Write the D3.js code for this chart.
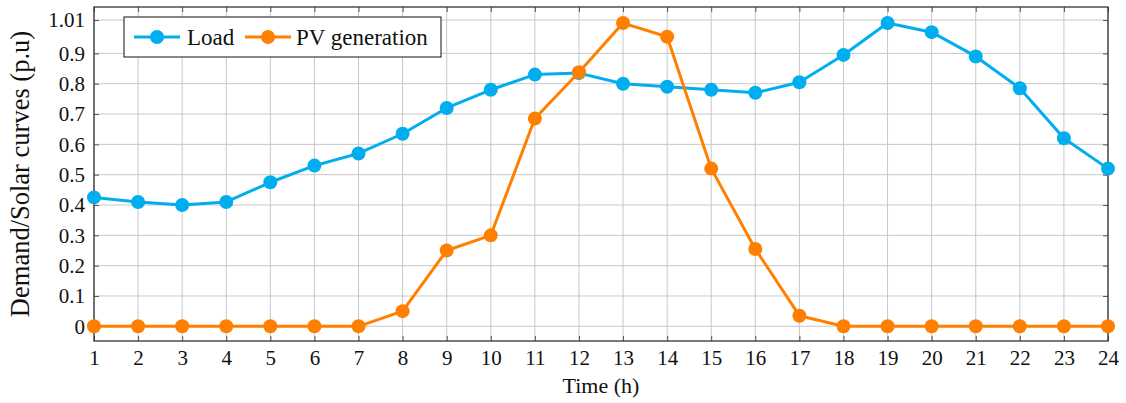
<!DOCTYPE html>
<head>
    <meta charset="utf-8">
    <script src='https://d3js.org/d3.v7.min.js'></script>
    <title>Load and PV generation</title>
    <style>
        body { margin: 0; background: #ffffff; }
        text { font-family: "Liberation Serif", "DejaVu Serif", serif; fill: #111; }
    </style>
</head>
<body>
    <svg id="chart" width="1126" height="403"></svg>
<script>

var hours = d3.range(1, 25);
var loadValues = [0.425, 0.41, 0.40, 0.41, 0.475, 0.53, 0.57, 0.635, 0.72, 0.78, 0.83, 0.835,
                  0.80, 0.79, 0.78, 0.77, 0.805, 0.895, 1.0, 0.97, 0.89, 0.785, 0.62, 0.52];
var pvValues = [0, 0, 0, 0, 0, 0, 0, 0.05, 0.25, 0.30, 0.685, 0.838,
                1.0, 0.955, 0.52, 0.255, 0.035, 0, 0, 0, 0, 0, 0, 0];
var yTicks = [0, 0.1, 0.2, 0.3, 0.4, 0.5, 0.6, 0.7, 0.8, 0.9, 1.01];
var seriesNames = ["Load", "PV generation"];
var seriesColors = ["#00aeef", "#ff8000"];

var plotLeft = 94, plotRight = 1108, plotTop = 7, plotBottom = 341;

var x = d3.scaleLinear().domain([1, 24]).range([plotLeft, plotRight]);
var y = d3.scaleLinear().domain([-0.0485, 1.053]).range([plotBottom, plotTop]);

var svg = d3.select("#chart");

// grid
svg.append("g")
  .selectAll("line")
  .data(hours)
  .enter().append("line")
  .attr("x1", function(d) { return x(d); })
  .attr("x2", function(d) { return x(d); })
  .attr("y1", plotTop)
  .attr("y2", plotBottom)
  .style("stroke", "#c8c8c8")
  .style("stroke-width", 1);

svg.append("g")
  .selectAll("line")
  .data(yTicks)
  .enter().append("line")
  .attr("x1", plotLeft)
  .attr("x2", plotRight)
  .attr("y1", function(d) { return y(d); })
  .attr("y2", function(d) { return y(d); })
  .style("stroke", "#c8c8c8")
  .style("stroke-width", 1);

// axes (ticks inside, on all four sides)
var fmt = function(d) { return d == 0 ? "0" : String(d); };

var xb = svg.append("g")
  .attr("transform", "translate(0," + plotBottom + ")")
  .call(d3.axisBottom(x).tickValues(hours).tickSize(-5).tickPadding(9).tickFormat(d3.format("d")));
var xt = svg.append("g")
  .attr("transform", "translate(0," + plotTop + ")")
  .call(d3.axisTop(x).tickValues(hours).tickSize(-5).tickFormat(""));
var yl = svg.append("g")
  .attr("transform", "translate(" + plotLeft + ",0)")
  .call(d3.axisLeft(y).tickValues(yTicks).tickSize(-5).tickPadding(9).tickFormat(fmt));
var yr = svg.append("g")
  .attr("transform", "translate(" + plotRight + ",0)")
  .call(d3.axisRight(y).tickValues(yTicks).tickSize(-5).tickFormat(""));

[xb, xt, yl, yr].forEach(function(a) {
  a.select(".domain").remove();
  a.selectAll(".tick line").style("stroke", "#555").style("stroke-width", 1);
  a.selectAll(".tick text")
    .style("font-family", "'Liberation Serif', serif")
    .style("font-size", "21px")
    .style("fill", "#111");
});

svg.append("rect")
  .attr("x", plotLeft).attr("y", plotTop)
  .attr("width", plotRight - plotLeft).attr("height", plotBottom - plotTop)
  .style("fill", "none")
  .style("stroke", "#333")
  .style("stroke-width", 1.3);

// series
var series = [loadValues, pvValues];
var line = d3.line()
  .x(function(d, i) { return x(hours[i]); })
  .y(function(d) { return y(d); });

for (var s = 0; s < series.length; s++) {
  svg.append("path")
    .datum(series[s])
    .attr("d", line)
    .style("fill", "none")
    .style("stroke", seriesColors[s])
    .style("stroke-width", 3)
    .style("stroke-linejoin", "round");
  svg.append("g")
    .selectAll("circle")
    .data(series[s])
    .enter().append("circle")
    .attr("cx", function(d, i) { return x(hours[i]); })
    .attr("cy", function(d) { return y(d); })
    .attr("r", 7)
    .style("fill", seriesColors[s]);
}

// axis labels
svg.append("text")
  .attr("text-anchor", "middle")
  .attr("x", 601)
  .attr("y", 393)
  .style("font-size", "22px")
  .text("Time (h)");

svg.append("text")
  .attr("text-anchor", "middle")
  .attr("transform", "translate(29,174) rotate(-90)")
  .style("font-size", "26.5px")
  .text("Demand/Solar curves (p.u)");

// legend
var legend = svg.append("g");
legend.append("rect")
  .attr("x", 124).attr("y", 17)
  .attr("width", 317).attr("height", 40)
  .style("fill", "#ffffff")
  .style("stroke", "#111")
  .style("stroke-width", 1);

var legendX = [134, 245];
var legendTextX = [187, 296];
for (var k = 0; k < seriesNames.length; k++) {
  legend.append("line")
    .attr("x1", legendX[k]).attr("x2", legendX[k] + 46)
    .attr("y1", 37).attr("y2", 37)
    .style("stroke", seriesColors[k])
    .style("stroke-width", 3);
  legend.append("circle")
    .attr("cx", legendX[k] + 23).attr("cy", 37).attr("r", 7)
    .style("fill", seriesColors[k]);
  legend.append("text")
    .attr("x", legendTextX[k]).attr("y", 37)
    .attr("dy", "0.35em")
    .style("font-size", "23px")
    .text(seriesNames[k]);
}

</script>
</body>
</html>
